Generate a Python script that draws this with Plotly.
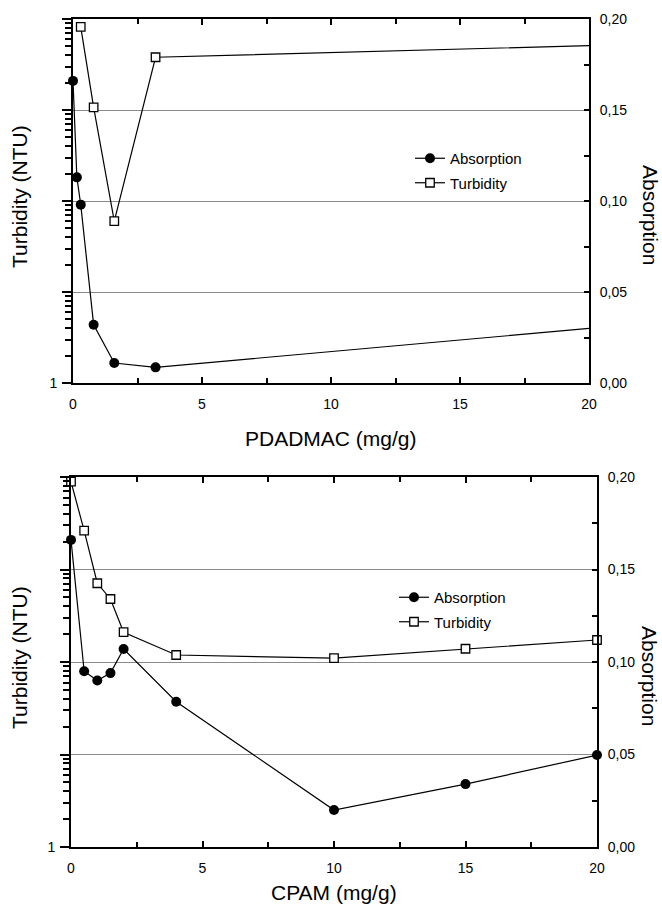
import plotly.graph_objects as go

W, H = 662, 905

# ---------------- data ----------------
# Top panel: PDADMAC
pd_abs_x = [0, 0.15, 0.3, 0.8, 1.6, 3.2, 20]
pd_abs_y = [0.166, 0.113, 0.098, 0.032, 0.011, 0.0086, 0.030]
pd_turb_x = [0.3, 0.8, 1.6, 3.2, 20]
pd_turb_y = [8200, 1070, 60, 3800, 5100]

# Bottom panel: CPAM
cp_abs_x = [0, 0.5, 1.0, 1.5, 2, 4, 10, 15, 20]
cp_abs_y = [0.166, 0.095, 0.090, 0.094, 0.107, 0.0785, 0.020, 0.034, 0.0497]
cp_turb_x = [0, 0.5, 1.0, 1.5, 2, 4, 10, 15, 20]
cp_turb_y = [8900, 2630, 710, 480, 210, 119, 110, 139, 173]

x_ticks = [0, 5, 10, 15, 20]
abs_ticks = [0, 0.05, 0.10, 0.15, 0.20]
abs_labels = ["0,00", "0,05", "0,10", "0,15", "0,20"]
turb_ticks = [1, 10, 100, 1000, 10000]
turb_labels = ["1", "", "", "", ""]

# ---------------- layout helpers ----------------
FONT = "Liberation Sans, Arial, sans-serif"
turb_minor = [m * d for d in [1, 10, 100, 1000] for m in range(2, 10)]
CLEAR = "rgba(0,0,0,0)"


def px_dom_x(a, b):
    return [a / W, b / W]


def px_dom_y(top, bottom):
    return [(H - bottom) / H, (H - top) / H]


fig = go.Figure()

# panel geometry (pixels)
panels = [
    dict(x=px_dom_x(73, 589), y=px_dom_y(19, 383)),
    dict(x=px_dom_x(71, 597), y=px_dom_y(477, 847)),
]

data = [
    (pd_abs_x, pd_abs_y, pd_turb_x, pd_turb_y),
    (cp_abs_x, cp_abs_y, cp_turb_x, cp_turb_y),
]

for i, (ax, ay, tx, ty) in enumerate(data):
    xa = "x" if i == 0 else "x2"
    yl = "y" if i == 0 else "y3"
    yr = "y2" if i == 0 else "y4"
    leg = "legend" if i == 0 else "legend2"
    abs_fill = ["black"] * len(ax)
    turb_fill = ["white"] * len(tx)
    turb_edge = ["black"] * len(tx)
    if i == 0:
        # last points lie at the right edge, drawn without marker
        abs_fill[-1] = CLEAR
        turb_fill[-1] = CLEAR
        turb_edge[-1] = CLEAR
    fig.add_trace(go.Scatter(
        x=ax, y=ay, xaxis=xa, yaxis=yr, name="Absorption", mode="lines+markers",
        line=dict(color="black", width=1.2),
        marker=dict(symbol="circle", size=10, color=abs_fill,
                    line=dict(color=CLEAR, width=0)),
        legend=leg, legendgroup="a%d" % i, cliponaxis=False,
    ))
    fig.add_trace(go.Scatter(
        x=tx, y=ty, xaxis=xa, yaxis=yl, name="Turbidity", mode="lines+markers",
        line=dict(color="black", width=1.2),
        marker=dict(symbol="square", size=8.5, color=turb_fill,
                    line=dict(color=turb_edge, width=1.3)),
        legend=leg, legendgroup="t%d" % i, cliponaxis=False,
    ))

tickfont = dict(family=FONT, size=14, color="black")

layout = dict(
    width=W, height=H,
    margin=dict(l=0, r=0, t=0, b=0, autoexpand=False),
    paper_bgcolor="white", plot_bgcolor="white",
    font=dict(family=FONT, color="black"),
    showlegend=True,
)

for i, p in enumerate(panels):
    xk = "xaxis" if i == 0 else "xaxis2"
    ylk = "yaxis" if i == 0 else "yaxis3"
    yrk = "yaxis2" if i == 0 else "yaxis4"
    xa = "x" if i == 0 else "x2"
    yl = "y" if i == 0 else "y3"
    layout[xk] = dict(
        domain=p["x"], anchor=yl, range=[0, 20], tickvals=x_ticks,
        ticks="inside", ticklen=6, tickwidth=1.5, tickcolor="black",
        minor=dict(tickvals=[2.5, 7.5, 12.5, 17.5], ticks="inside", ticklen=5,
                   tickwidth=1.5, tickcolor="black"),
        showline=True, linewidth=2, linecolor="black", mirror="ticks",
        showgrid=False, zeroline=False, tickfont=tickfont, automargin=False,
        ticklabelstandoff=7,
    )
    layout[ylk] = dict(
        domain=p["y"], anchor=xa, type="log", range=[0, 4],
        tickvals=turb_ticks, ticktext=turb_labels,
        ticks="outside", ticklen=9, tickwidth=1.5, tickcolor="black",
        minor=dict(tickvals=turb_minor, ticks="outside", ticklen=6,
                   tickwidth=1.5, tickcolor="black"),
        showline=True, linewidth=2, linecolor="black",
        showgrid=False, zeroline=False, tickfont=tickfont, automargin=False,
        ticklabelstandoff=2,
    )
    layout[yrk] = dict(
        domain=p["y"], anchor=xa, overlaying=yl, side="right",
        range=[0, 0.2], tickvals=abs_ticks, ticktext=abs_labels,
        ticks="inside", ticklen=5, tickwidth=1.5, tickcolor="black",
        minor=dict(tickvals=[0.025, 0.075, 0.125, 0.175], ticks="inside",
                   ticklen=5, tickwidth=1.5, tickcolor="black"),
        showline=True, linewidth=2, linecolor="black",
        showgrid=True, gridcolor="#8a8a8a", gridwidth=1,
        zeroline=False, tickfont=tickfont, automargin=False,
        ticklabelstandoff=6,
    )

legfont = dict(family=FONT, size=15, color="black")
layout["legend"] = dict(
    x=410 / W, y=1 - 142 / H, xanchor="left", yanchor="top",
    bgcolor="rgba(0,0,0,0)", borderwidth=0, font=legfont,
    traceorder="grouped", tracegroupgap=2, itemwidth=30,
)
layout["legend2"] = dict(
    x=394 / W, y=1 - 581 / H, xanchor="left", yanchor="top",
    bgcolor="rgba(0,0,0,0)", borderwidth=0, font=legfont,
    traceorder="grouped", tracegroupgap=2, itemwidth=30,
)

titlefont = dict(family=FONT, size=21, color="black")
anns = [
    dict(text="PDADMAC (mg/g)", x=331 / W, y=1 - 438 / H),
    dict(text="CPAM (mg/g)", x=334 / W, y=1 - 892 / H),
    dict(text="Turbidity (NTU)", x=19 / W, y=1 - 197 / H, textangle=-90),
    dict(text="Turbidity (NTU)", x=19 / W, y=1 - 658 / H, textangle=-90),
    dict(text="Absorption", x=650 / W, y=1 - 215 / H, textangle=90),
    dict(text="Absorption", x=650 / W, y=1 - 676 / H, textangle=90),
]
layout["annotations"] = [
    dict(a, xref="paper", yref="paper", showarrow=False, font=titlefont,
         xanchor="center", yanchor="middle") for a in anns
]

fig.update_layout(**layout)
fig.write_html(
    "out.html",
    config={"displayModeBar": False},
    post_script="document.body.style.margin='0';document.body.style.overflow='hidden';",
)
